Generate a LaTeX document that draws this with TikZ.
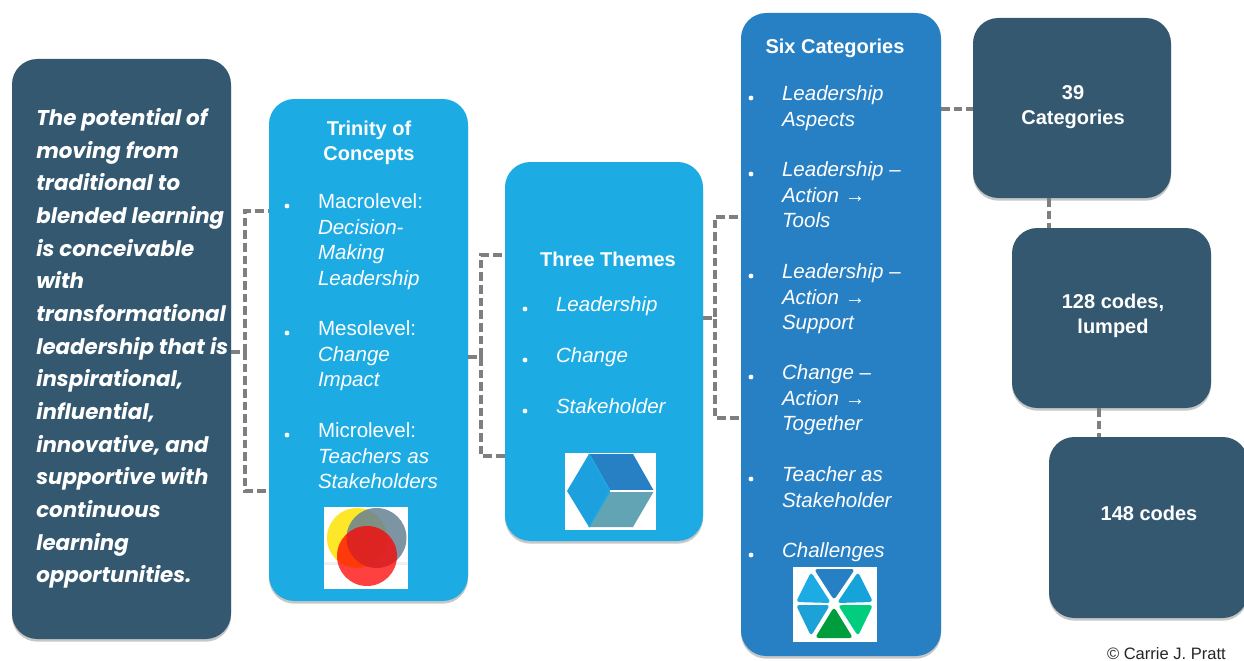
\documentclass[tikz,border=0pt]{standalone}
\usepackage{fontspec}
\setmainfont{Liberation Sans}
\newfontfamily\geofont{Poppins}
\usetikzlibrary{shadows}
\definecolor{slateblue}{HTML}{34586F}
\definecolor{skyblue}{HTML}{1DABE4}
\definecolor{midblue}{HTML}{2880C4}
\definecolor{conngrey}{HTML}{7F7F7F}
\tikzset{
  card/.style={rectangle,rounded corners=19pt,inner sep=0pt,
    general shadow={shadow xshift=0pt,shadow yshift=-2pt,opacity=.22,fill=black}},
  conn/.style={draw=conngrey,line width=3pt,dash pattern=on 6.5pt off 3pt},
  body/.style={anchor=north west,inner sep=0pt,outer sep=0pt,align=left,text=white,
    font=\fontsize{15.4}{19.1}\selectfont},
  head/.style={inner sep=0pt,align=center,text=white,
    font=\bfseries\fontsize{15}{19}\selectfont},
  dot/.style={circle,fill=white,inner sep=0pt,minimum size=3.6pt},
  iconbg/.style={fill=white,draw=none},
}
\begin{document}
\begin{tikzpicture}[x=0.75pt,y=-0.75pt]
\useasboundingbox (0,0) rectangle (1244,660);
\fill[white] (0,0) rectangle (1244,660);
\clip (0,0) rectangle (1244,660);
% cards
\node[card,fill=slateblue,minimum width=219*0.75pt,minimum height=580*0.75pt] (thesis) at (121.5,349) {};
\node[card,fill=skyblue,minimum width=199*0.75pt,minimum height=502*0.75pt] (trinity) at (368.5,350) {};
\node[card,fill=skyblue,minimum width=198*0.75pt,minimum height=379*0.75pt] (themes) at (604,351.5) {};
\node[card,fill=midblue,minimum width=200*0.75pt,minimum height=643*0.75pt] (six) at (841,334.5) {};
\node[card,fill=slateblue,minimum width=198*0.75pt,minimum height=180*0.75pt] (cats) at (1072,108) {};
\node[card,fill=slateblue,minimum width=199*0.75pt,minimum height=180*0.75pt] (lumped) at (1111.5,318) {};
\node[card,fill=slateblue,minimum width=199*0.75pt,minimum height=181*0.75pt] (codes) at (1148.5,527.5) {};
% junctions
\coordinate (jam) at (245,352); \coordinate (jat) at (245,211); \coordinate (jab) at (245,491);
\coordinate (jbm) at (481,357); \coordinate (jbt) at (481,255); \coordinate (jbb) at (481,456);
\coordinate (jcm) at (715,318); \coordinate (jct) at (715,217); \coordinate (jcb) at (715,418);
\coordinate (jd) at (941,109); \coordinate (je) at (1049,198); \coordinate (jf) at (1099,408);
% connectors
\draw[conn] (thesis.east |- jam) -- (jam) -- (jat) -- (trinity.west |- jat);
\draw[conn] (thesis.east |- jam) -- (jam) -- (jab) -- (trinity.west |- jab);
\draw[conn] (trinity.east |- jbm) -- (jbm) -- (jbt) -- (themes.west |- jbt);
\draw[conn] (trinity.east |- jbm) -- (jbm) -- (jbb) -- (themes.west |- jbb);
\draw[conn] (themes.east |- jcm) -- (jcm) -- (jct) -- (six.west |- jct);
\draw[conn] (themes.east |- jcm) -- (jcm) -- (jcb) -- (six.west |- jcb);
\draw[conn] (jd) -- (cats.west |- jd);
\draw[conn] (je) -- (je |- lumped.north);
\draw[conn] (jf) -- (jf |- codes.north);
% thesis text
\node[anchor=north west,inner sep=0pt,align=left,text=white,
  font=\geofont\bfseries\itshape\fontsize{16}{24.5}\selectfont] (thesistext) at (36,108)
  {The potential of\\moving from\\traditional to\\blended learning\\is conceivable\\with\\transformational\\leadership that is\\inspirational,\\influential,\\innovative, and\\supportive with\\continuous\\learning\\opportunities.};
% trinity text
\node[head] (trinityhead) at (369,143) {Trinity of\\Concepts};
\node[dot] (b1) at (287,206) {};
\node[dot] (b2) at (287,333) {};
\node[dot] (b3) at (287,435) {};
\node[body] (t1) at (318,194) {Macrolevel:\\\textit{Decision-}\\\textit{Making}\\\textit{Leadership}};
\node[body] (t2) at (318,321) {Mesolevel:\\\textit{Change}\\\textit{Impact}};
\node[body] (t3) at (318,423) {Microlevel:\\\textit{Teachers as}\\\textit{Stakeholders}};
% themes text
\node[head] (themeshead) at (608,259) {Three Themes};
\node[dot] (b4) at (525,309) {};
\node[dot] (b5) at (525,360) {};
\node[dot] (b6) at (525,411) {};
\node[body] (t4) at (556,297) {\textit{Leadership}};
\node[body] (t5) at (556,348) {\textit{Change}};
\node[body] (t6) at (556,399) {\textit{Stakeholder}};
% six text
\node[head] (sixhead) at (835,48) {Six Categories};
\foreach \n/\y in {b7/98,b8/174,b9/276,b10/377,b11/479,b12/555} {\node[dot] (\n) at (751,\y) {};}
\node[body] (t7) at (782,86) {\textit{Leadership}\\\textit{Aspects}};
\node[body] (t8) at (782,162) {\textit{Leadership –}\\\textit{Action →}\\\textit{Tools}};
\node[body] (t9) at (782,264) {\textit{Leadership –}\\\textit{Action →}\\\textit{Support}};
\node[body] (t10) at (782,365) {\textit{Change –}\\\textit{Action →}\\\textit{Together}};
\node[body] (t11) at (782,467) {\textit{Teacher as}\\\textit{Stakeholder}};
\node[body] (t12) at (782,543) {\textit{Challenges}};
% right cards text
\node[head] (catstext) at (1073,107) {39\\Categories};
\node[head] (lumpedtext) at (1113,316) {128 codes,\\lumped};
\node[head] (codestext) at (1149,513) {148 codes};
\node[anchor=base east,inner sep=0pt,font=\fontsize{12.4}{15}\selectfont,text=black!85] (credit) at (1226,659) {© Carrie J. Pratt};
% venn icon
\fill[iconbg] (324,507) rectangle (408,589);
\fill[fill=black!6] (324,562) rectangle (408,589);
\fill[fill=white] (324,565) rectangle (408,589);
\fill[fill=yellow!85!orange,fill opacity=.85] (357,538) circle (30);
\fill[fill=slateblue!75,fill opacity=.85] (376.5,538) circle (30);
\fill[fill=red,fill opacity=.75] (367,556) circle (30);
% cube icon
\fill[iconbg] (565,453) rectangle (656,530);
\fill[fill=midblue] (589,454) -- (633,454) -- (654,491) -- (610,491) -- cycle;
\fill[fill=cyan!55!skyblue] (589,454) -- (610,491) -- (589,527) -- (567,491) -- cycle;
\fill[fill=teal!45!skyblue!60!gray!80!white] (610,491) -- (654,491) -- (633,527) -- (589,527) -- cycle;
\draw[skyblue,line width=1pt] (589,454) -- (610,491) -- (589,527);
\draw[white,line width=1pt] (610,491) -- (654,491);
% hexagon icon
\fill[iconbg] (793,567) rectangle (877,642);
\begin{scope}[rounded corners=2.5pt]
\fill[fill=midblue] (814,569) -- (855,569) -- (834,600) -- cycle;
\fill[fill=skyblue] (811,572) -- (831,603) -- (796,602) -- cycle;
\fill[fill=cyan!65!skyblue!95!green] (858,572) -- (873,602) -- (837,603) -- cycle;
\fill[fill=cyan!75!teal] (796,605) -- (830,605) -- (811,636) -- cycle;
\fill[fill=teal!55!green!70!cyan] (838,605) -- (873,605) -- (858,636) -- cycle;
\fill[fill=green!45!teal!85!black] (834,607) -- (853,638) -- (815,638) -- cycle;
\end{scope}
\end{tikzpicture}
\end{document}
